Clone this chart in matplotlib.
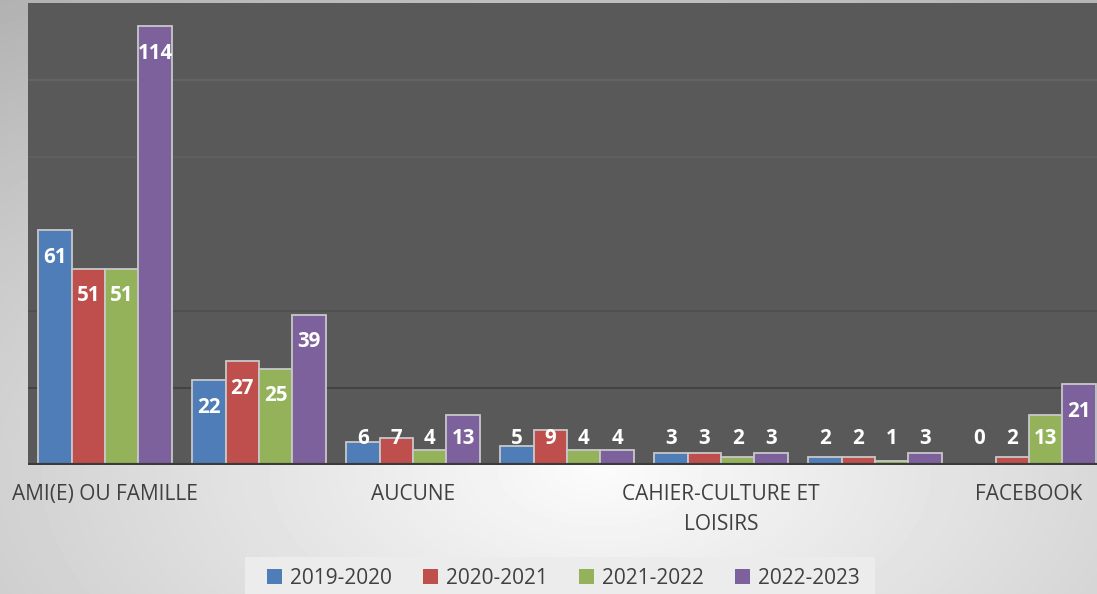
import matplotlib.pyplot as plt
import numpy as np
from matplotlib.patches import Rectangle

categories = ["AMI(E) OU FAMILLE", "", "AUCUNE", "", "CAHIER-CULTURE ET\nLOISIRS", "", "FACEBOOK"]
seasons = ["2019-2020", "2020-2021", "2021-2022", "2022-2023"]
v_2019 = [61, 22, 6, 5, 3, 2, 0]
v_2020 = [51, 27, 7, 9, 3, 2, 2]
v_2021 = [51, 25, 4, 4, 2, 1, 13]
v_2022 = [114, 39, 13, 4, 3, 3, 21]
series = [v_2019, v_2020, v_2021, v_2022]
colors = ["#4F7DB8", "#BE4F4C", "#93B25A", "#7D619C"]

FONT = "Open Sans"
W, H = 1097, 594

fig = plt.figure(figsize=(W / 100, H / 100), dpi=100)

# light radial backdrop behind everything
bg = fig.add_axes([0, 0, 1, 1], zorder=-10)
yy, xx = np.mgrid[0:H, 0:W]
r = np.hypot((xx - 600) / W, (yy - 470) / H)
bg.imshow(0.985 - 0.30 * r, cmap="gray", vmin=0, vmax=1, aspect="auto",
          extent=[0, W, H, 0])
bg.set_xlim(0, W)
bg.set_ylim(H, 0)
bg.axis("off")

# plot area runs slightly past the right edge, as in the source
ax = fig.add_axes([28 / W, (H - 465) / H, 1078 / W, 462 / H])
ax.set_facecolor("#595959")
ax.set_xlim(-0.5, len(categories) - 0.5)
ax.set_ylim(0, 120)

for val, col in zip([20, 40, 80, 100], ["#3f3f3f", "#4d4d4d", "#616161", "#666666"]):
    ax.axhline(val, color=col, linewidth=1.2, zorder=1)

x = np.arange(len(categories))
width = 0.2175
for i, (vals, col) in enumerate(zip(series, colors)):
    pos = x + (i - 1.5) * width
    ax.bar(pos, vals, width=width, color=col, edgecolor="#c8c8c8", linewidth=1.3,
           zorder=3, label=seasons[i])
    for px, v in zip(pos, vals):
        ax.text(px, max(v - 7, 7), str(v), ha="center", va="center", color="white",
                fontsize=14.8, fontweight="bold", family=FONT, zorder=4)

ax.axhline(0, color="#3a3a3a", linewidth=3, zorder=5)

for s in ax.spines.values():
    s.set_visible(False)
ax.set_yticks([])
ax.set_xticks([])
for xi, lab in zip(x, categories):
    if lab:
        ax.text(xi, -5.0, lab, ha="center", va="top", color="#404040", fontsize=15,
                family=FONT, linespacing=1.55)

# legend box at the bottom
fig.patches.append(Rectangle((245 / W, 0), 630 / W, 37 / H, transform=fig.transFigure,
                             facecolor="#ececec", edgecolor="none", zorder=-5))
leg = fig.legend(loc="center", bbox_to_anchor=(563 / W, (H - 578) / H), ncol=4,
                 frameon=False, handlelength=0.75, handleheight=0.75, handletextpad=0.35,
                 columnspacing=1.5, prop={"family": FONT, "size": 15})
for t in leg.get_texts():
    t.set_color("#404040")
for h in leg.legend_handles:
    h.set_edgecolor("none")

fig.savefig("out.png", dpi=100)
